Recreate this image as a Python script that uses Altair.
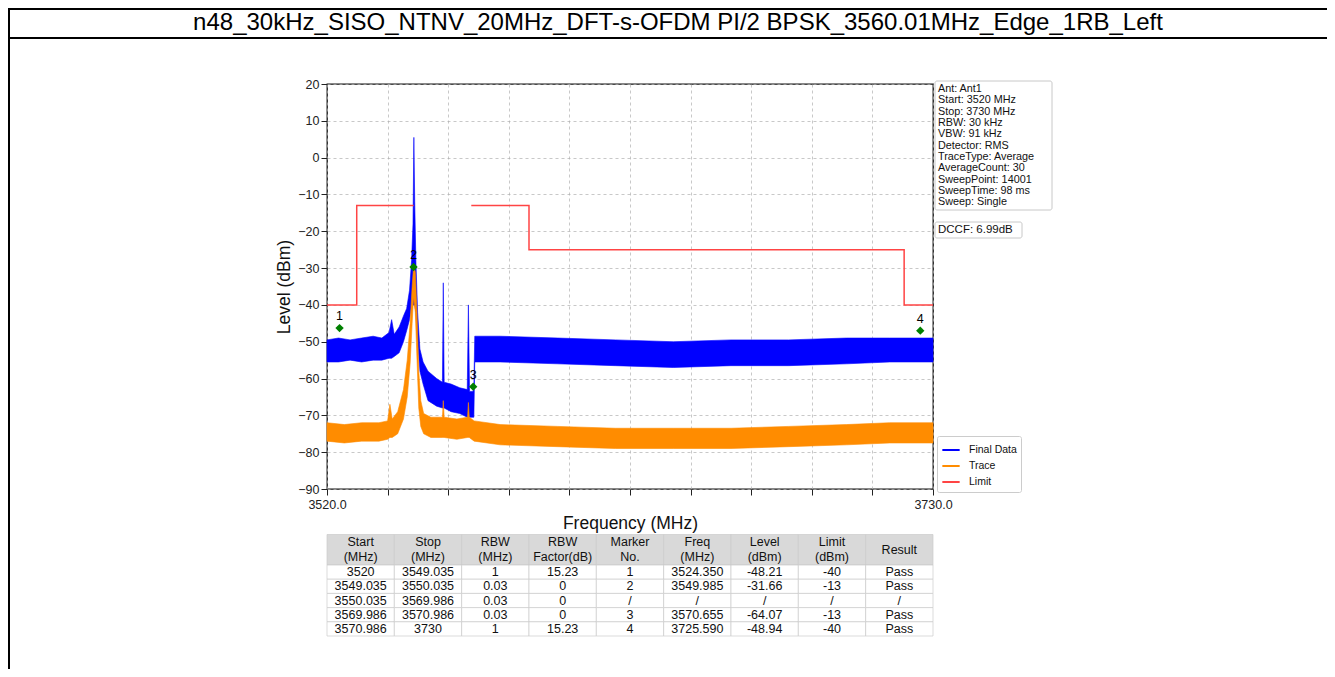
import altair as alt
import pandas as pd

FONT = "Liberation Sans"
TITLE = "n48_30kHz_SISO_NTNV_20MHz_DFT-s-OFDM PI/2 BPSK_3560.01MHz_Edge_1RB_Left"

# ---------------- data ----------------
x_ticks = [3520, 3541, 3562, 3583, 3604, 3625, 3646, 3667, 3688, 3709, 3730]
y_ticks = [-90, -80, -70, -60, -50, -40, -30, -20, -10, 0, 10, 20]

# Final Data trace (blue): envelope (upper / lower edge of the noisy trace)
blue_freq = [3520.0, 3524.0, 3528.0, 3532.0, 3536.0, 3539.0, 3541.5, 3542.4, 3543.3, 3545.0,
             3546.5, 3547.6, 3548.6, 3549.3, 3549.8, 3550.1, 3550.4, 3550.8, 3551.4, 3552.2,
             3553.3, 3555.0, 3558.0, 3560.0, 3560.3, 3560.6, 3563.0, 3566.0, 3568.6, 3569.0,
             3569.4, 3570.6, 3570.9, 3571.2, 3580.0, 3600.0, 3620.0, 3640.0, 3660.0, 3680.0,
             3700.0, 3715.0, 3730.0]
blue_hi = [-49.5, -49.0, -49.5, -49.0, -48.5, -49.0, -47.5, -44.0, -48.0, -46.0,
           -43.0, -41.0, -36.0, -28.0, -18.0, 5.5, -12.0, -28.0, -42.0, -52.0,
           -55.5, -58.0, -60.0, -61.0, -34.0, -61.0, -61.5, -62.5, -63.0, -40.0,
           -63.5, -63.5, -62.0, -48.5, -48.5, -49.0, -49.5, -50.0, -49.5, -49.5,
           -49.0, -49.0, -49.0]
blue_lo = [-55.5, -55.5, -55.0, -55.5, -55.0, -55.0, -54.5, -54.5, -54.0, -53.0,
           -50.0, -47.0, -44.0, -40.0, -40.0, -40.0, -40.0, -42.0, -50.0, -58.0,
           -61.5, -66.0, -67.5, -68.0, -68.0, -68.0, -69.0, -69.5, -70.5, -70.5,
           -70.5, -70.5, -70.5, -55.5, -55.5, -56.0, -56.5, -57.0, -56.5, -56.5,
           -56.0, -55.5, -55.5]

# Trace (orange): envelope
orange_freq = [3520.0, 3526.0, 3532.0, 3538.0, 3541.0, 3541.8, 3542.6, 3544.5, 3546.5, 3547.8,
               3548.8, 3549.5, 3550.0, 3550.6, 3551.2, 3551.8, 3552.5, 3553.5, 3556.0, 3560.0,
               3560.3, 3560.6, 3565.0, 3568.7, 3569.0, 3569.3, 3571.0, 3580.0, 3600.0, 3620.0,
               3640.0, 3660.0, 3680.0, 3700.0, 3715.0, 3730.0]
orange_hi = [-72.0, -72.5, -72.0, -72.0, -71.5, -67.0, -71.0, -69.0, -63.0, -55.0,
             -45.0, -35.0, -29.5, -31.0, -42.0, -58.0, -66.0, -69.5, -70.5, -70.5,
             -66.0, -70.5, -71.0, -70.5, -66.5, -70.5, -71.5, -72.5, -73.0, -73.5,
             -73.5, -73.5, -73.0, -72.5, -72.0, -72.0]
orange_lo = [-77.0, -77.5, -77.0, -77.0, -76.5, -76.0, -76.0, -75.0, -71.0, -65.0,
             -56.0, -45.0, -38.0, -42.0, -55.0, -68.0, -73.0, -75.0, -76.0, -76.0,
             -76.0, -76.0, -76.5, -76.0, -76.0, -76.0, -77.0, -78.0, -78.5, -79.0,
             -79.0, -79.0, -78.5, -78.0, -77.5, -77.5]

# Limit line (two pieces)
limit_seg = [0, 0, 0, 0, 1, 1, 1, 1, 1, 1]
limit_freq = [3520.0, 3530.3, 3530.3, 3550.0, 3570.0, 3590.0, 3590.0, 3720.0, 3720.0, 3730.0]
limit_level = [-40, -40, -13, -13, -13, -13, -25, -25, -40, -40]

# Markers (position as drawn on the plot)
marker_no = ["1", "2", "3", "4"]
marker_freq = [3524.350, 3549.985, 3570.655, 3725.590]
marker_drawn_level = [-46.3, -29.7, -62.2, -47.0]

series_names = ["Final Data", "Trace", "Limit"]
series_colors = ["#0000ff", "#ff8c00", "#ff4444"]

info_lines = ["Ant: Ant1", "Start: 3520 MHz", "Stop: 3730 MHz", "RBW: 30 kHz", "VBW: 91 kHz",
              "Detector: RMS", "TraceType: Average", "AverageCount: 30", "SweepPoint: 14001",
              "SweepTime: 98 ms", "Sweep: Single"]
dccf_text = "DCCF: 6.99dB"

table_header = ["Start\n(MHz)", "Stop\n(MHz)", "RBW\n(MHz)", "RBW\nFactor(dB)", "Marker\nNo.",
                "Freq\n(MHz)", "Level\n(dBm)", "Limit\n(dBm)", "Result"]
table_rows = [
    ["3520", "3549.035", "1", "15.23", "1", "3524.350", "-48.21", "-40", "Pass"],
    ["3549.035", "3550.035", "0.03", "0", "2", "3549.985", "-31.66", "-13", "Pass"],
    ["3550.035", "3569.986", "0.03", "0", "/", "/", "/", "/", "/"],
    ["3569.986", "3570.986", "0.03", "0", "3", "3570.655", "-64.07", "-13", "Pass"],
    ["3570.986", "3730", "1", "15.23", "4", "3725.590", "-48.94", "-40", "Pass"],
]

# ---------------- layout ----------------
W, H = 606, 405
PAD = {"left": 319, "top": 76, "right": 394, "bottom": 180}


def X(field):
    return alt.X(f"{field}:Q",
                 scale=alt.Scale(domain=[3520, 3730], nice=False, zero=False),
                 axis=alt.Axis(values=x_ticks, title="Frequency (MHz)",
                               labelExpr="(datum.value == 3520 || datum.value == 3730) ? format(datum.value, '.1f') : ''",
                               labelFlush=False, labelOverlap=False, labelPadding=3, titlePadding=4))


def Y(field):
    return alt.Y(f"{field}:Q",
                 scale=alt.Scale(domain=[-90, 20], nice=False, zero=False),
                 axis=alt.Axis(values=y_ticks, title="Level (dBm)", labelPadding=2,
                               titlePadding=4, labelOverlap=False))


blue_df = pd.DataFrame({"freq": blue_freq, "hi": blue_hi, "lo": blue_lo})
orange_df = pd.DataFrame({"freq": orange_freq, "hi": orange_hi, "lo": orange_lo})
limit_df = pd.DataFrame({"seg": limit_seg, "freq": limit_freq, "level": limit_level,
                         "idx": list(range(len(limit_freq))), "series": "Limit"})
marker_df = pd.DataFrame({"no": marker_no, "freq": marker_freq, "level": marker_drawn_level})

blue = alt.Chart(blue_df).mark_area(color=series_colors[0], strokeWidth=0.6,
                                    stroke=series_colors[0]).encode(x=X("freq"), y=Y("hi"), y2="lo")
orange = alt.Chart(orange_df).mark_area(color=series_colors[1], strokeWidth=0.6,
                                        stroke=series_colors[1]).encode(x=X("freq"), y=Y("hi"), y2="lo")
limit = alt.Chart(limit_df).mark_line(strokeWidth=1.5).encode(
    x=X("freq"), y=Y("level"), detail="seg:N", order="idx:Q",
    color=alt.Color("series:N", scale=alt.Scale(domain=series_names, range=series_colors),
                    legend=alt.Legend(orient="none", legendX=610, legendY=352, title=None,
                                      symbolType="stroke", symbolStrokeWidth=2, symbolSize=300,
                                      labelFont=FONT, labelFontSize=10.5, labelColor="#111",
                                      labelOffset=8, rowPadding=0, padding=4,
                                      strokeColor="#cccccc", fillColor="white", cornerRadius=2)))
markers = alt.Chart(marker_df).mark_point(shape="diamond", filled=True, size=70, color="#008000",
                                          opacity=1).encode(x=X("freq"), y=Y("level"))
marker_labels = alt.Chart(marker_df).mark_text(dy=-12, font=FONT, fontSize=12.5, color="black").encode(
    x=X("freq"), y=Y("level"), text="no:N")

plot = alt.layer(blue, orange, limit, markers, marker_labels)

# ---------------- table ----------------
HDR_UNITS = 2.15     # header height, in data-row heights
LINE_UNITS = 1.05    # header line spacing, in data-row heights
cells = []
texts = []
for c, t in enumerate(table_header):
    cells.append(dict(c0=c, c1=c + 1, r0=0, r1=HDR_UNITS, kind="header"))
    lines = t.split("\n")
    for j, ln in enumerate(lines):
        texts.append(dict(xc=c + 0.5, yc=HDR_UNITS / 2 + (j - (len(lines) - 1) / 2) * LINE_UNITS, txt=ln))
for i, row in enumerate(table_rows):
    for c, t in enumerate(row):
        cells.append(dict(c0=c, c1=c + 1, r0=HDR_UNITS + i, r1=HDR_UNITS + i + 1, kind="body"))
        texts.append(dict(xc=c + 0.5, yc=HDR_UNITS + i + 0.5, txt=t))
cells_df = pd.DataFrame(cells)
texts_df = pd.DataFrame(texts)
tx = alt.Scale(domain=[0, 9], range=[0, W])
ty = alt.Scale(domain=[0, HDR_UNITS + 5], range=[450.5, 552])
t_rects = alt.Chart(cells_df).mark_rect(stroke="#cccccc", strokeWidth=0.7).encode(
    x=alt.X("c0:Q", scale=tx, axis=None), x2="c1",
    y=alt.Y("r0:Q", scale=ty, axis=None), y2="r1",
    fill=alt.Fill("kind:N", scale=alt.Scale(domain=["header", "body"], range=["#d9d9d9", "#ffffff"]),
                  legend=None))
t_text = alt.Chart(texts_df).mark_text(font=FONT, fontSize=12.5, color="#111", baseline="middle").encode(
    x=alt.X("xc:Q", scale=tx, axis=None), y=alt.Y("yc:Q", scale=ty, axis=None), text="txt:N")
table = alt.layer(t_rects, t_text)

# ---------------- decorations ----------------
ONE = pd.DataFrame({"k": [0]})
frame_left = alt.Chart(ONE).mark_rule(color="black", strokeWidth=2).encode(
    x=alt.value(-318), y=alt.value(-76), y2=alt.value(590))
frame_top = alt.Chart(ONE).mark_rule(color="black", strokeWidth=2).encode(
    x=alt.value(-319), x2=alt.value(1000), y=alt.value(-75))
frame_sep = alt.Chart(ONE).mark_rule(color="black", strokeWidth=2).encode(
    x=alt.value(-319), x2=alt.value(1000), y=alt.value(-46))
title = alt.Chart(ONE).mark_text(font=FONT, fontSize=24, color="black", align="center",
                                 baseline="middle").encode(
    x=alt.value(351), y=alt.value(-61), text=alt.value(TITLE))
info_box = alt.Chart(ONE).mark_rect(fill="white", stroke="#c8c8c8", strokeWidth=1, cornerRadius=2).encode(
    x=alt.value(608), x2=alt.value(725), y=alt.value(-3), y2=alt.value(126))
info_text = alt.Chart(ONE).mark_text(font=FONT, fontSize=10.8, lineBreak="\n", lineHeight=11.35,
                                     align="left", baseline="top", color="#111").encode(
    x=alt.value(611), y=alt.value(-1), text=alt.value("\n".join(info_lines)))
dccf_box = alt.Chart(ONE).mark_rect(fill="white", stroke="#c8c8c8", strokeWidth=1, cornerRadius=2).encode(
    x=alt.value(608), x2=alt.value(695), y=alt.value(138), y2=alt.value(154))
dccf = alt.Chart(ONE).mark_text(font=FONT, fontSize=11.5, align="left", baseline="middle",
                                color="#111").encode(
    x=alt.value(611), y=alt.value(146), text=alt.value(dccf_text))

chart = alt.layer(
    plot, table, frame_left, frame_top, frame_sep, title, info_box, info_text, dccf_box, dccf
).resolve_scale(x="independent", y="independent").properties(
    width=W, height=H, padding=PAD, autosize=alt.AutoSizeParams(type="none")
).configure_view(stroke="#111", strokeWidth=1.3).configure_axis(
    grid=True, gridColor="#b0b0b0", gridDash=[3, 3], gridWidth=0.7, domain=False,
    tickColor="#222", tickSize=6, tickWidth=1,
    labelFont=FONT, labelFontSize=12.5, labelColor="#222",
    titleFont=FONT, titleFontSize=17.5, titleFontWeight="normal", titleColor="#111")

chart.save("out.html", embed_options={"renderer": "svg", "actions": False})
